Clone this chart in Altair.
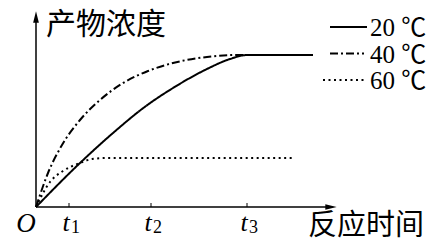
import altair as alt
import pandas as pd

# ---- data (axis units: arbitrary, origin at 0) ----
series = ["20 ℃", "40 ℃", "60 ℃"]
t_20 = [0, 44, 77, 110, 137, 171, 194, 211, 277]
c_20 = [0, 44, 74, 101, 119, 138, 148, 152, 152]
t_40 = [0, 12, 26, 44, 64, 87, 112, 137, 171, 200, 230]
c_40 = [0, 34, 62, 87, 107, 124, 136, 144, 150, 152, 152]
t_60 = [0, 14, 27, 44, 56, 70, 257]
c_60 = [0, 25, 36, 44, 48, 49, 49]

tick_pos = [33, 115, 211]
tick_sub = ["1", "2", "3"]
x_end = 295
y_end = 190
y_label = "产物浓度"
x_label = "反应时间"

dashes = [[1, 0], [8, 3, 2, 3], [2, 3.5]]

rows = []
for s, ts, cs in zip(series, [t_20, t_40, t_60], [c_20, c_40, c_60]):
    for i, (t, c) in enumerate(zip(ts, cs)):
        rows.append({"series": s, "t": t, "c": c, "i": i})
curves = pd.DataFrame(rows)

X = alt.Scale(domain=[-36, 398], nice=False, zero=False)
Y = alt.Scale(domain=[-36, 207], nice=False, zero=False)

lines = alt.Chart(curves).mark_line(interpolate="monotone", strokeWidth=2, color="black").encode(
    x=alt.X("t:Q", scale=X, axis=None),
    y=alt.Y("c:Q", scale=Y, axis=None),
    order="i:Q",
    strokeDash=alt.StrokeDash(
        "series:N",
        scale=alt.Scale(domain=series, range=dashes),
        legend=None,
    ),
)

# manual legend (line sample + label), laid out in pixels
legend_layers = []
sample_x = [(330, 367), (330, 364), (323, 364)]
for k, s in enumerate(series):
    yy = 27 + 26.5 * k
    x1, x2 = sample_x[k]
    ldf = pd.DataFrame({"series": [s]})
    legend_layers.append(
        alt.Chart(ldf).mark_rule(color="black", strokeWidth=2, strokeDash=dashes[k]).encode(
            x=alt.value(x1), x2=alt.value(x2), y=alt.value(yy)
        )
    )
    legend_layers.append(
        alt.Chart(ldf).mark_text(
            font="Liberation Serif, Noto Sans CJK SC", fontSize=25, align="left",
            baseline="middle", color="black"
        ).encode(x=alt.value(370), y=alt.value(yy + 1), text="series:N")
    )

axes_df = pd.DataFrame({"x": [0, 0], "x2": [x_end, 0], "y": [0, 0], "y2": [0, y_end]})
axes = alt.Chart(axes_df).mark_rule(color="black", strokeWidth=1.5).encode(
    x="x:Q", x2="x2:Q", y="y:Q", y2="y2:Q"
)

arrow_x = alt.Chart(pd.DataFrame({"x": [x_end], "y": [0]})).mark_point(
    shape="M1,0L-1,0.5L-1,-0.5Z", size=130, filled=True, color="black", opacity=1
).encode(x="x:Q", y="y:Q")
arrow_y = alt.Chart(pd.DataFrame({"x": [0], "y": [y_end]})).mark_point(
    shape="M0,-1L0.5,1L-0.5,1Z", size=130, filled=True, color="black", opacity=1
).encode(x="x:Q", y="y:Q")

ticks_df = pd.DataFrame({"t": tick_pos, "sub": tick_sub})
ticks = alt.Chart(ticks_df).mark_rule(color="black", strokeWidth=1).encode(
    x="t:Q", y=alt.datum(0), y2=alt.datum(4)
)
tick_t = alt.Chart(ticks_df).mark_text(
    text="t", font="Liberation Serif", fontStyle="italic", fontSize=26,
    align="center", baseline="alphabetic", dx=-3, color="black"
).encode(x="t:Q", y=alt.value(231))
tick_s = alt.Chart(ticks_df).mark_text(
    font="Liberation Serif", fontSize=18, align="left", baseline="alphabetic",
    dx=2, color="black"
).encode(x="t:Q", y=alt.value(233), text="sub:N")

origin = alt.Chart(pd.DataFrame({"x": [0]})).mark_text(
    text="O", font="Liberation Serif", fontStyle="italic", fontSize=27,
    align="center", baseline="alphabetic", dx=-10, color="black"
).encode(x="x:Q", y=alt.value(232))

ylab = alt.Chart(pd.DataFrame({"s": [y_label]})).mark_text(
    font="Noto Sans CJK SC", fontSize=30, align="left", baseline="middle", color="black"
).encode(x=alt.value(46), y=alt.value(25), text="s:N")
xlab = alt.Chart(pd.DataFrame({"s": [x_label]})).mark_text(
    font="Noto Sans CJK SC", fontSize=29, align="left", baseline="middle", color="black"
).encode(x=alt.value(308), y=alt.value(226), text="s:N")

chart = alt.layer(lines, axes, arrow_x, arrow_y, ticks, tick_t, tick_s, origin, ylab, xlab,
                  *legend_layers).properties(
    width=434, height=243, autosize=alt.AutoSizeParams(type="none"), padding=0,
    background="white",
).configure_view(stroke=None)

chart.save("out.html", embed_options={"renderer": "svg", "actions": False})
